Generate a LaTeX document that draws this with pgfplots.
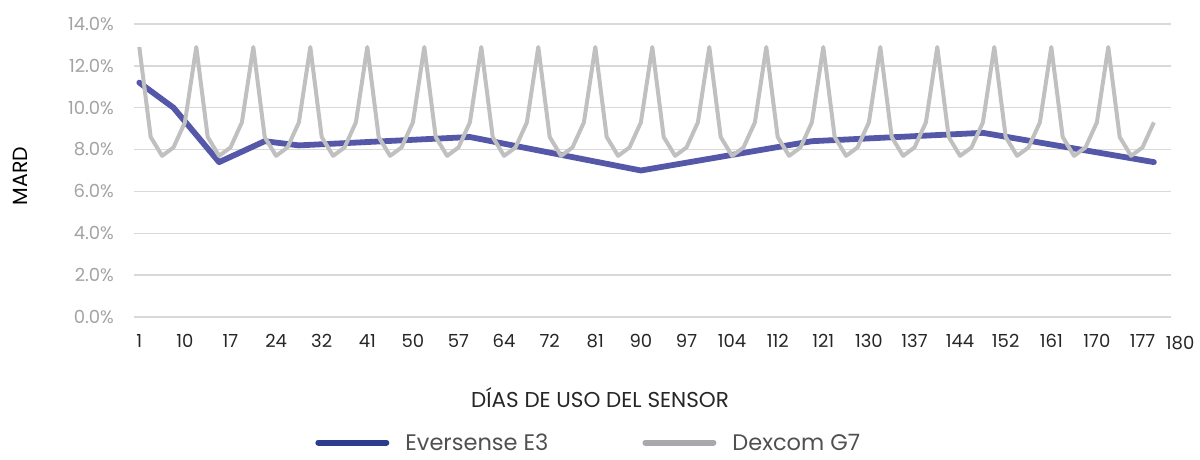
\documentclass[border=0pt]{standalone}
\usepackage{fontspec}
\setmainfont{Poppins}
\usepackage{pgfplots}
\pgfplotsset{compat=1.18}
\definecolor{evers}{HTML}{5558A8}
\definecolor{eversleg}{HTML}{2B3D8C}
\definecolor{dex}{HTML}{C0C0C0}
\definecolor{dexleg}{HTML}{A9A9AD}
\definecolor{gridc}{HTML}{D9D9D9}
\definecolor{ylab}{HTML}{A3A3A3}
\definecolor{xlab}{HTML}{262626}
\definecolor{legtxt}{HTML}{505050}
\begin{document}
\begin{tikzpicture}
\begin{axis}[
  anchor=south west,
  scale only axis, width=1037.4pt, height=293pt,
  xmin=-0.5, xmax=90.5, ymin=0, ymax=14,
  clip=false,
  axis x line*=bottom, axis y line*=left,
  axis line style={draw=none},
  major tick length=0pt,
  ymajorgrids, grid style={gridc, line width=1.3pt},
  ytick={0,2,4,6,8,10,12,14},
  yticklabel={\pgfmathprintnumber[fixed,fixed zerofill,precision=1]{\tick}\%},
  yticklabel style={anchor=east, inner sep=0pt, xshift=-19.5pt, text=ylab, font=\fontsize{18}{20}\selectfont},
  xtick={0,4,8,12,16,20,24,28,32,36,40,44,48,52,56,60,64,68,72,76,80,84,88},
  xticklabels={1,10,17,24,32,41,50,57,64,72,81,90,97,104,112,121,130,137,144,152,161,170,177},
  xticklabel style={anchor=north, inner sep=0pt, yshift=-17pt, text=xlab, font=\fontsize{18}{20}\selectfont},
  /pgf/number format/assume math mode=true,
  xlabel={DÍAS DE USO DEL SENSOR},
  xlabel style={at={(axis description cs:0.4496,-0.2765)}, anchor=center, text=xlab, font=\fontsize{21.5}{24}\selectfont},
  ylabel={MARD},
  ylabel style={at={(axis description cs:-0.1095,0.481)}, anchor=center, text=black, font=\fontsize{20.5}{24}\selectfont},
  legend columns=2,
  legend style={at={(axis description cs:0.175,-0.4285)}, anchor=west, draw=none, fill=none, inner sep=0pt,
    font=\fontsize{22.5}{26}\selectfont, text=legtxt,
    /tikz/every even column/.append style={column sep=94pt},
    nodes={inner sep=0pt, text depth=0pt}},
  legend cell align=left,
]
\addplot[evers, line width=5.8pt, line join=round, line cap=round,
  legend image code/.code={\draw[eversleg, line width=6pt, line cap=round] (3pt,0pt) -- (71pt,0pt); \path[draw=none] (0pt,0pt) -- (90pt,0pt);}]
  coordinates {(0,11.2)(3,10.0)(7,7.4)(11,8.4)(14,8.2)(29,8.6)(44,7.0)(59,8.4)(74,8.8)(89,7.4)};
\addlegendentry{Eversense E3}
\addplot[dex, line width=4pt, line join=round,
  legend image code/.code={\draw[dexleg, line width=6pt, line cap=round] (3pt,0pt) -- (71pt,0pt); \path[draw=none] (0pt,0pt) -- (90pt,0pt);}]
  coordinates {
  (0,12.9)(1,8.6)(2,7.7)(3,8.1)(4,9.3)
  (5,12.9)(6,8.6)(7,7.7)(8,8.1)(9,9.3)
  (10,12.9)(11,8.6)(12,7.7)(13,8.1)(14,9.3)
  (15,12.9)(16,8.6)(17,7.7)(18,8.1)(19,9.3)
  (20,12.9)(21,8.6)(22,7.7)(23,8.1)(24,9.3)
  (25,12.9)(26,8.6)(27,7.7)(28,8.1)(29,9.3)
  (30,12.9)(31,8.6)(32,7.7)(33,8.1)(34,9.3)
  (35,12.9)(36,8.6)(37,7.7)(38,8.1)(39,9.3)
  (40,12.9)(41,8.6)(42,7.7)(43,8.1)(44,9.3)
  (45,12.9)(46,8.6)(47,7.7)(48,8.1)(49,9.3)
  (50,12.9)(51,8.6)(52,7.7)(53,8.1)(54,9.3)
  (55,12.9)(56,8.6)(57,7.7)(58,8.1)(59,9.3)
  (60,12.9)(61,8.6)(62,7.7)(63,8.1)(64,9.3)
  (65,12.9)(66,8.6)(67,7.7)(68,8.1)(69,9.3)
  (70,12.9)(71,8.6)(72,7.7)(73,8.1)(74,9.3)
  (75,12.9)(76,8.6)(77,7.7)(78,8.1)(79,9.3)
  (80,12.9)(81,8.6)(82,7.7)(83,8.1)(84,9.3)
  (85,12.9)(86,8.6)(87,7.7)(88,8.1)(89,9.3)};
\addlegendentry{Dexcom G7}
\node[anchor=north, inner sep=0pt, yshift=-19pt, text=xlab, font=\fontsize{18}{20}\selectfont] at (axis cs:91.3,0) {180};
\end{axis}
\path[use as bounding box] (-133.6pt,-143pt) rectangle (1066.4pt,317pt);
\end{tikzpicture}
\end{document}
